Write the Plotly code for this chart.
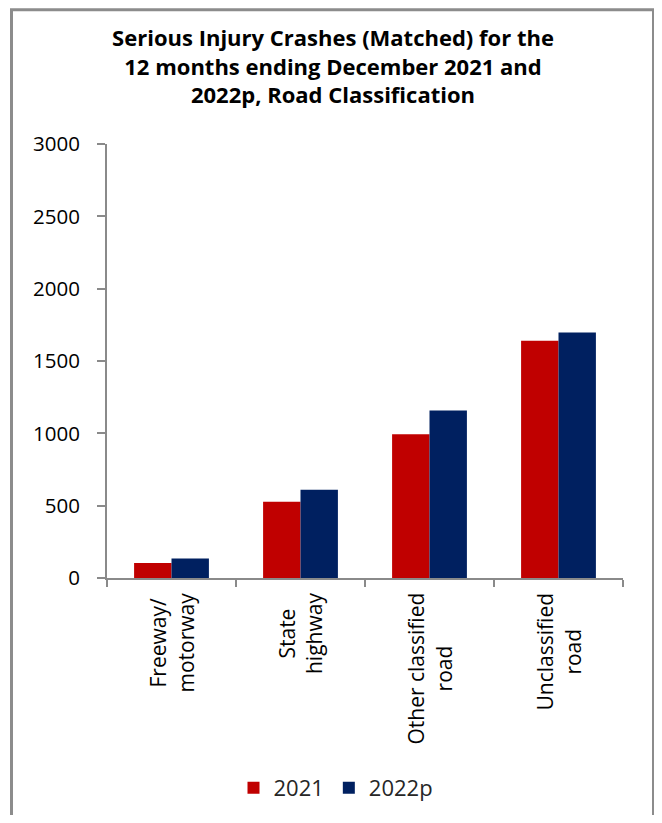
import plotly.graph_objects as go

categories = ["Freeway/<br>motorway", "State<br>highway", "Other classified<br>road", "Unclassified<br>road"]
cat_keys = ["Freeway/motorway", "State highway", "Other classified road", "Unclassified road"]
values_2021 = [103, 527, 994, 1640]
values_2022p = [135, 610, 1157, 1697]
series_names = ["2021", "2022p"]
y_ticks = [0, 500, 1000, 1500, 2000, 2500, 3000]

FONT = "Open Sans"
AXIS_COLOR = "#8a8a8a"

# page body has an 8px margin; figure sized to fit the 662x823 window
W, H = 646, 807
L, R, T, B = 99, 31, 136, 236.5
PW, PH = W - L - R, H - T - B

fig = go.Figure()
fig.add_trace(go.Bar(x=cat_keys, y=values_2021, name=series_names[0],
                     marker=dict(color="#C00000", line=dict(width=0))))
fig.add_trace(go.Bar(x=cat_keys, y=values_2022p, name=series_names[1],
                     marker=dict(color="#002060", line=dict(width=0))))

for key, lab in zip(cat_keys, categories):
    fig.add_annotation(x=key, xref="x", y=-0.03, yref="paper", text=lab,
                       textangle=-90, xanchor="center", yanchor="top",
                       align="center", showarrow=False,
                       font=dict(family=FONT, size=21, color="#000000"))

fig.update_layout(
    width=W, height=H,
    margin=dict(l=L, r=R, t=T, b=B, autoexpand=False),
    paper_bgcolor="white", plot_bgcolor="white",
    barmode="group", bargap=0.42, bargroupgap=0,
    title=dict(text="<b>Serious Injury Crashes (Matched) for the<br>12 months ending December 2021 and<br>2022p, Road Classification</b>",
               x=(333 - 8) / W, xanchor="center", xref="container",
               y=1 - 38 / H, yanchor="top", yref="container",
               font=dict(family=FONT, size=22, color="#000000")),
    legend=dict(orientation="h", xref="container", yref="container",
                x=(336 - 8) / W, xanchor="center", y=1 - (788 - 8) / H, yanchor="middle",
                font=dict(family=FONT, size=22, color="#262626"),
                itemwidth=30, traceorder="normal"),
    showlegend=True,
)

fig.update_xaxes(type="category", range=[-0.5, 3.5], showline=True,
                 linecolor=AXIS_COLOR, linewidth=2, ticks="outside",
                 tickson="boundaries", ticklen=7, tickwidth=2,
                 tickcolor=AXIS_COLOR, showticklabels=False, showgrid=False)
fig.update_yaxes(range=[0, 3000], tickvals=y_ticks, showline=True,
                 linecolor=AXIS_COLOR, linewidth=2, ticks="outside",
                 ticklen=8, tickwidth=2, tickcolor=AXIS_COLOR,
                 ticklabelstandoff=13, showgrid=False, zeroline=False,
                 tickfont=dict(family=FONT, size=20.5, color="#000000"))

# chart border (left, top, right edges; bottom is outside the window)
fig.add_shape(type="rect", xref="paper", yref="paper",
              x0=(3.5 - L) / PW, x1=(645.5 - L) / PW,
              y0=-0.7, y1=(T + PH - 1.5) / PH,
              line=dict(color="#8c8c8c", width=3), fillcolor="rgba(0,0,0,0)",
              layer="below")

fig.write_html("out.html")
